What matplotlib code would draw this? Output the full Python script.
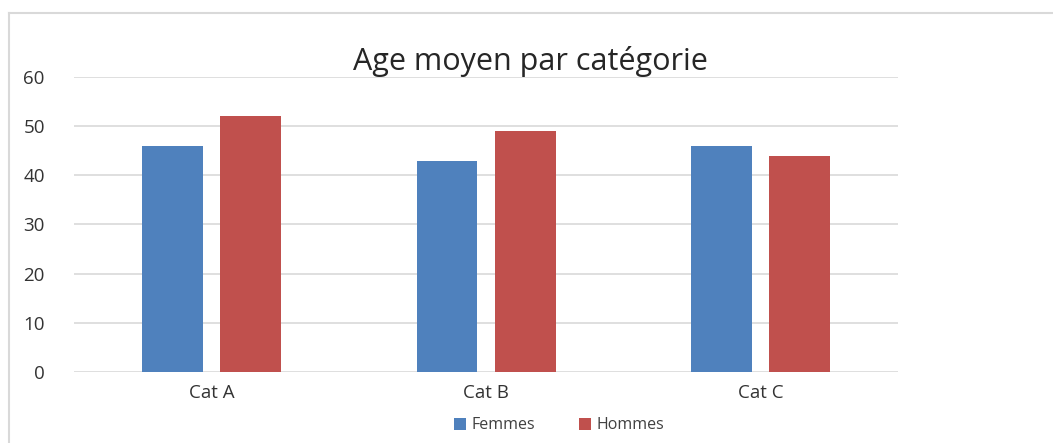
import numpy as np
import matplotlib
matplotlib.use("Agg")
import matplotlib.pyplot as plt
from matplotlib.lines import Line2D

categories = ["Cat A", "Cat B", "Cat C"]
femmes = [46, 43, 46]
hommes = [52, 49, 44]
yticks = [0, 10, 20, 30, 40, 50, 60]

plt.rcParams["font.family"] = ["Open Sans", "DejaVu Sans"]

fig = plt.figure(figsize=(10.53, 4.43), dpi=100)
ax = fig.add_axes([0.0703, 0.1603, 0.7825, 0.6659])

x = np.arange(len(categories))
w = 0.222
off = 0.142
ax.bar(x - off, femmes, w, color="#4F81BD", label="Femmes", zorder=3)
ax.bar(x + off, hommes, w, color="#C0504D", label="Hommes", zorder=3)

ax.set_xlim(-0.5, len(categories) - 0.5)
ax.set_ylim(0, 60)
ax.set_yticks(yticks)
ax.set_xticks(x)
ax.set_xticklabels(categories)
ax.grid(axis="y", color="#D9D9D9", linewidth=1.2, zorder=0)
for s in ax.spines.values():
    s.set_visible(False)
ax.tick_params(length=0, labelsize=13.5, colors="#333333")
ax.tick_params(axis="y", pad=21)
ax.tick_params(axis="x", pad=9)

fig.text(0.504, 0.861, "Age moyen par catégorie", ha="center", va="center",
         fontsize=22, color="#262626")

fig.legend(loc="center", bbox_to_anchor=(0.531, 0.04), ncol=2, frameon=False,
           fontsize=11.5, handlelength=0.75, handleheight=0.75, handletextpad=0.3,
           columnspacing=2.8, labelcolor="#404040")

# chart frame (top and left edges visible)
fig.add_artist(Line2D([0.0085, 1.0], [0.9707, 0.9707], color="#D9D9D9", lw=1.5))
fig.add_artist(Line2D([0.0085, 0.0085], [0.0, 0.9707], color="#D9D9D9", lw=1.5))

fig.savefig("out.png", dpi=100)
